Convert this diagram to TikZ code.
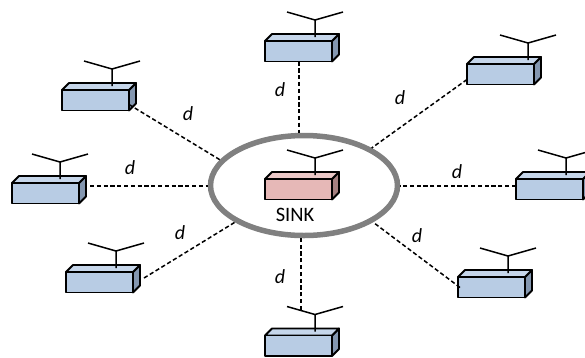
\documentclass[tikz,border=0pt]{standalone}
\usepackage{fontspec}
\setmainfont{Carlito}
\usetikzlibrary{shapes.geometric,calc}
\definecolor{bluefront}{HTML}{B8CCE4}
\definecolor{bluetop}{HTML}{C6D6EA}
\definecolor{blueside}{HTML}{8497B0}
\definecolor{pinkfront}{HTML}{E6B8B7}
\definecolor{pinktop}{HTML}{EBC8C7}
\definecolor{pinkside}{HTML}{A58080}
\definecolor{ringgrey}{HTML}{808080}
\tikzset{
  x=1pt,y=-1pt,
  boxline/.style={draw=black,line width=1.8pt,line join=round},
  frontbox/.style={boxline,rectangle,minimum width=67pt,minimum height=20.5pt,inner sep=0pt,outer sep=0pt,anchor=north west},
  aerial/.style={draw=black,line width=1.5pt},
  link/.style={draw=black,line width=1.5pt,dash pattern=on 4.2pt off 2.6pt},
  ringshape/.style={ellipse,draw=ringgrey,line width=5.5pt,minimum width=187pt,minimum height=100pt,inner sep=0pt},
  dlabel/.style={font=\itshape\fontsize{20}{20}\selectfont,inner sep=0pt},
  sinklabel/.style={font=\fontsize{20.5}{21}\selectfont,inner sep=0pt}
}
% name, x, y of front top-left, antenna offset, colour prefix
\newcommand{\device}[5]{%
  \fill[#5side,boxline] (#2+67,#3) -- (#2+74,#3-7) -- (#2+74,#3+13.5) -- (#2+67,#3+20.5) -- cycle;
  \fill[#5top,boxline] (#2,#3) -- (#2+7,#3-7) -- (#2+74,#3-7) -- (#2+67,#3) -- cycle;
  \node[frontbox,fill=#5front] (#1) at (#2,#3) {};
  \draw[aerial] (#2+#4,#3-4) -- (#2+#4,#3-21) (#2+#4-28,#3-29) -- (#2+#4,#3-21) -- (#2+#4+28,#3-29);
}
\begin{document}
\begin{tikzpicture}
\clip (0,0) rectangle (585,357);
\fill[white] (0,0) rectangle (585,357);
\node[ringshape] (ring) at (304,185.5) {};
\coordinate (sstart) at (301,238);
\coordinate (send) at (301,310);
\draw[link] (send) -- (sstart);
\device{devN}{265}{41}{50}{blue}
\device{devNW}{62}{90}{50}{blue}
\device{devW}{12}{183}{48}{blue}
\device{devSW}{66}{272}{50}{blue}
\device{devS}{265}{335.5}{50}{blue}
\device{devSE}{458}{277}{50}{blue}
\device{devE}{516}{179}{50}{blue}
\device{devNE}{467}{64}{61}{blue}
\device{sink}{265}{179}{50}{pink}
\node[sinklabel] (sinktext) at (295,215) {SINK};
\coordinate (nwend) at ($(devNW.south east)+(0,-6)$);
\coordinate (swend) at ($(devSW.south east)+(11,-14.5)$);
\coordinate (seend) at ($(devSE.south west)+(2,-10)$);
\coordinate (neend) at ($(devNE.south west)+(0,-5)$);
\coordinate (wend) at ($(devW.east)+(11,-7.25)$);
\coordinate (eend) at ($(devE.west)+(0,-3.25)$);
\coordinate (nend) at ($(devN.south)+(0.5,0)$);
\draw[link] (nend) -- (nend |- ring.north);
\draw[link] (neend) -- (ring.29.5);
\draw[link] (eend) -- (eend -| ring.east);
\draw[link] (seend) -- (ring.332);
\draw[link] (swend) -- (ring.208);
\draw[link] (wend) -- (wend -| ring.west);
\draw[link] (nwend) -- (ring.163.5);
\node[dlabel] (d1) at (280,90) {d};
\node[dlabel] (d2) at (400,98) {d};
\node[dlabel] (d3) at (457,172) {d};
\node[dlabel] (d4) at (417,236) {d};
\node[dlabel] (d5) at (280,277) {d};
\node[dlabel] (d6) at (180,233) {d};
\node[dlabel] (d7) at (130,168) {d};
\node[dlabel] (d8) at (188,114) {d};
\end{tikzpicture}
\end{document}
